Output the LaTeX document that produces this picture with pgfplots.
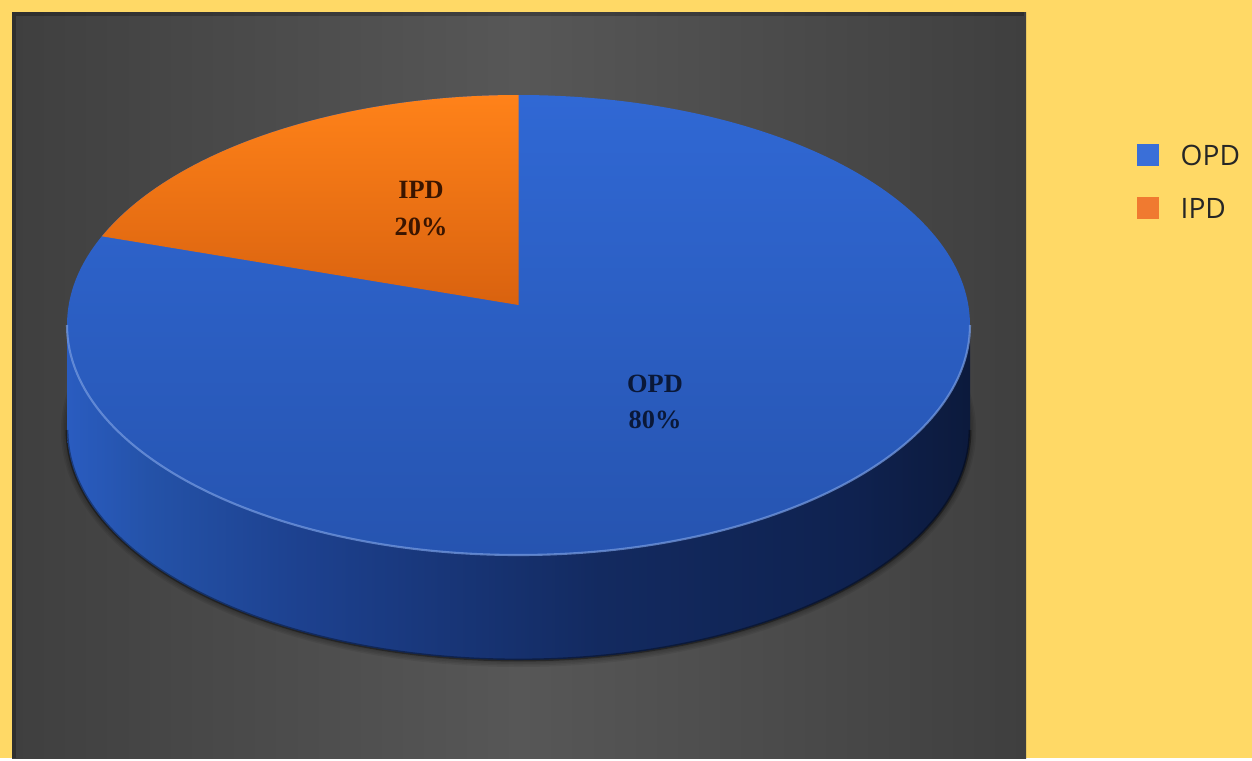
\documentclass[border=0pt]{standalone}
\usepackage{pgfplots}
\pgfplotsset{compat=1.18}
\usepackage{pgfplotstable}
\usepackage{fontspec}
\setmainfont{Liberation Serif}
\newfontfamily\legfont{Open Sans}
\definecolor{bgyellow}{HTML}{FFD966}
\definecolor{bgE}{HTML}{3F3F3F}
\definecolor{bgM}{HTML}{575757}
\definecolor{topA}{HTML}{3068D4}
\definecolor{topB}{HTML}{2654B0}
\definecolor{s0}{HTML}{2A5CC0}
\definecolor{s1}{HTML}{2452A8}
\definecolor{s2}{HTML}{1D418F}
\definecolor{s3}{HTML}{132A60}
\definecolor{s4}{HTML}{0F2250}
\definecolor{s5}{HTML}{0C1A3C}
\definecolor{orA}{HTML}{FF8219}
\definecolor{orB}{HTML}{D9620F}
\definecolor{legblue}{HTML}{3A6FD8}
\definecolor{legorange}{HTML}{F07A30}
\definecolor{lblIPD}{HTML}{3A1500}
\definecolor{lblOPD}{HTML}{0A1838}
\pgfdeclarehorizontalshading{bgshade}{100bp}{color(0bp)=(bgE); color(25bp)=(bgE); color(50bp)=(bgM); color(75bp)=(bgE); color(100bp)=(bgE)}
\pgfdeclarehorizontalshading{sideshade}{100bp}{color(0bp)=(s0); color(25bp)=(s0); color(29.6bp)=(s1); color(37.9bp)=(s2); color(54.5bp)=(s3); color(68.4bp)=(s4); color(75bp)=(s5); color(100bp)=(s5)}

\pgfplotstableread{
label value
OPD 80
IPD 20
}\piedata

\begin{document}
\begin{tikzpicture}
\pgfplotstablegetelem{0}{value}\of\piedata \let\vOPD\pgfplotsretval
\pgfplotstablegetelem{1}{value}\of\piedata \let\vIPD\pgfplotsretval
\pgfmathsetmacro\total{\vOPD+\vIPD}
% true angle of the IPD slice end, then perspective correction (tilt 0.087)
\pgfmathsetmacro\th{90+360*\vIPD/\total}
\pgfmathsetmacro\tl{0.087}
\pgfmathsetmacro\sa{\tl/sqrt(1-\tl*\tl)}
\pgfmathsetmacro\ca{1/sqrt(1-\tl*\tl)}
\pgfmathsetmacro\xe{cos(\th)/(sin(\th)*\sa+\ca)}
\pgfmathsetmacro\ye{(sin(\th)*\ca+\sa)/(sin(\th)*\sa+\ca)}
\pgfmathsetmacro\aEnd{atan2(\ye,\xe)}
\pgfmathtruncatemacro\pIPD{round(100*\vIPD/\total)}
\pgfmathtruncatemacro\pOPD{round(100*\vOPD/\total)}
\begin{axis}[width=12.52cm,height=7.58cm,scale only axis,
  xmin=0,xmax=1252,ymin=0,ymax=758,hide axis,clip=false]
% background
\fill[bgyellow] (axis cs:0,0) rectangle (axis cs:1252,758);
\shade[shading=bgshade] (axis cs:12,0) rectangle (axis cs:1026,746);
\draw[black,opacity=0.25,line width=1.2pt] (axis cs:14,0) -- (axis cs:14,744) -- (axis cs:1024,744);
% shadow
\pgfplotsinvokeforeach{1,...,4}{
  \fill[black,opacity=0.07] (axis cs:518.5,327) ellipse [x radius={4.515cm+#1*0.015cm}, y radius={2.3cm+#1*0.015cm}];
}
% side
\shade[shading=sideshade]
  (axis cs:67,433) -- (axis cs:67,328)
  arc[start angle=180,end angle=360,x radius=4.515cm,y radius=2.3cm]
  -- (axis cs:970,433)
  arc[start angle=360,end angle=180,x radius=4.515cm,y radius=2.3cm] -- cycle;
\draw[black,opacity=0.35,line width=0.8pt] (axis cs:67,328)
  arc[start angle=180,end angle=360,x radius=4.515cm,y radius=2.3cm];
% top face
\shade[top color=topA,bottom color=topB] (axis cs:518.5,433) ellipse [x radius=4.515cm,y radius=2.3cm];
\draw[color=topA!65!white,line width=0.6pt,opacity=0.7] (axis cs:67,433)
  arc[start angle=180,end angle=360,x radius=4.515cm,y radius=2.3cm];
% IPD slice
\shade[top color=orA,bottom color=orB] (axis cs:518.5,453) -- (axis cs:518.5,663)
  arc[start angle=90,end angle=\aEnd,x radius=4.515cm,y radius=2.3cm] -- cycle;
% labels
\node[font=\bfseries\fontsize{7.5}{9}\selectfont,text=lblIPD] at (axis cs:421,568) {IPD};
\node[font=\bfseries\fontsize{7.5}{9}\selectfont,text=lblIPD] at (axis cs:421,531) {\pIPD\%};
\node[font=\bfseries\fontsize{7.5}{9}\selectfont,text=lblOPD] at (axis cs:655,374) {OPD};
\node[font=\bfseries\fontsize{7.5}{9}\selectfont,text=lblOPD] at (axis cs:655,338) {\pOPD\%};
% legend
\fill[legblue] (axis cs:1137,592) rectangle (axis cs:1159,614);
\fill[legorange] (axis cs:1137,539) rectangle (axis cs:1159,561);
\node[anchor=west,inner sep=0pt,font=\legfont\fontsize{8}{9}\selectfont,text=black!85] at (axis cs:1180,603) {OPD};
\node[anchor=west,inner sep=0pt,font=\legfont\fontsize{8}{9}\selectfont,text=black!85] at (axis cs:1180,550) {IPD};
\end{axis}
\end{tikzpicture}
\end{document}
